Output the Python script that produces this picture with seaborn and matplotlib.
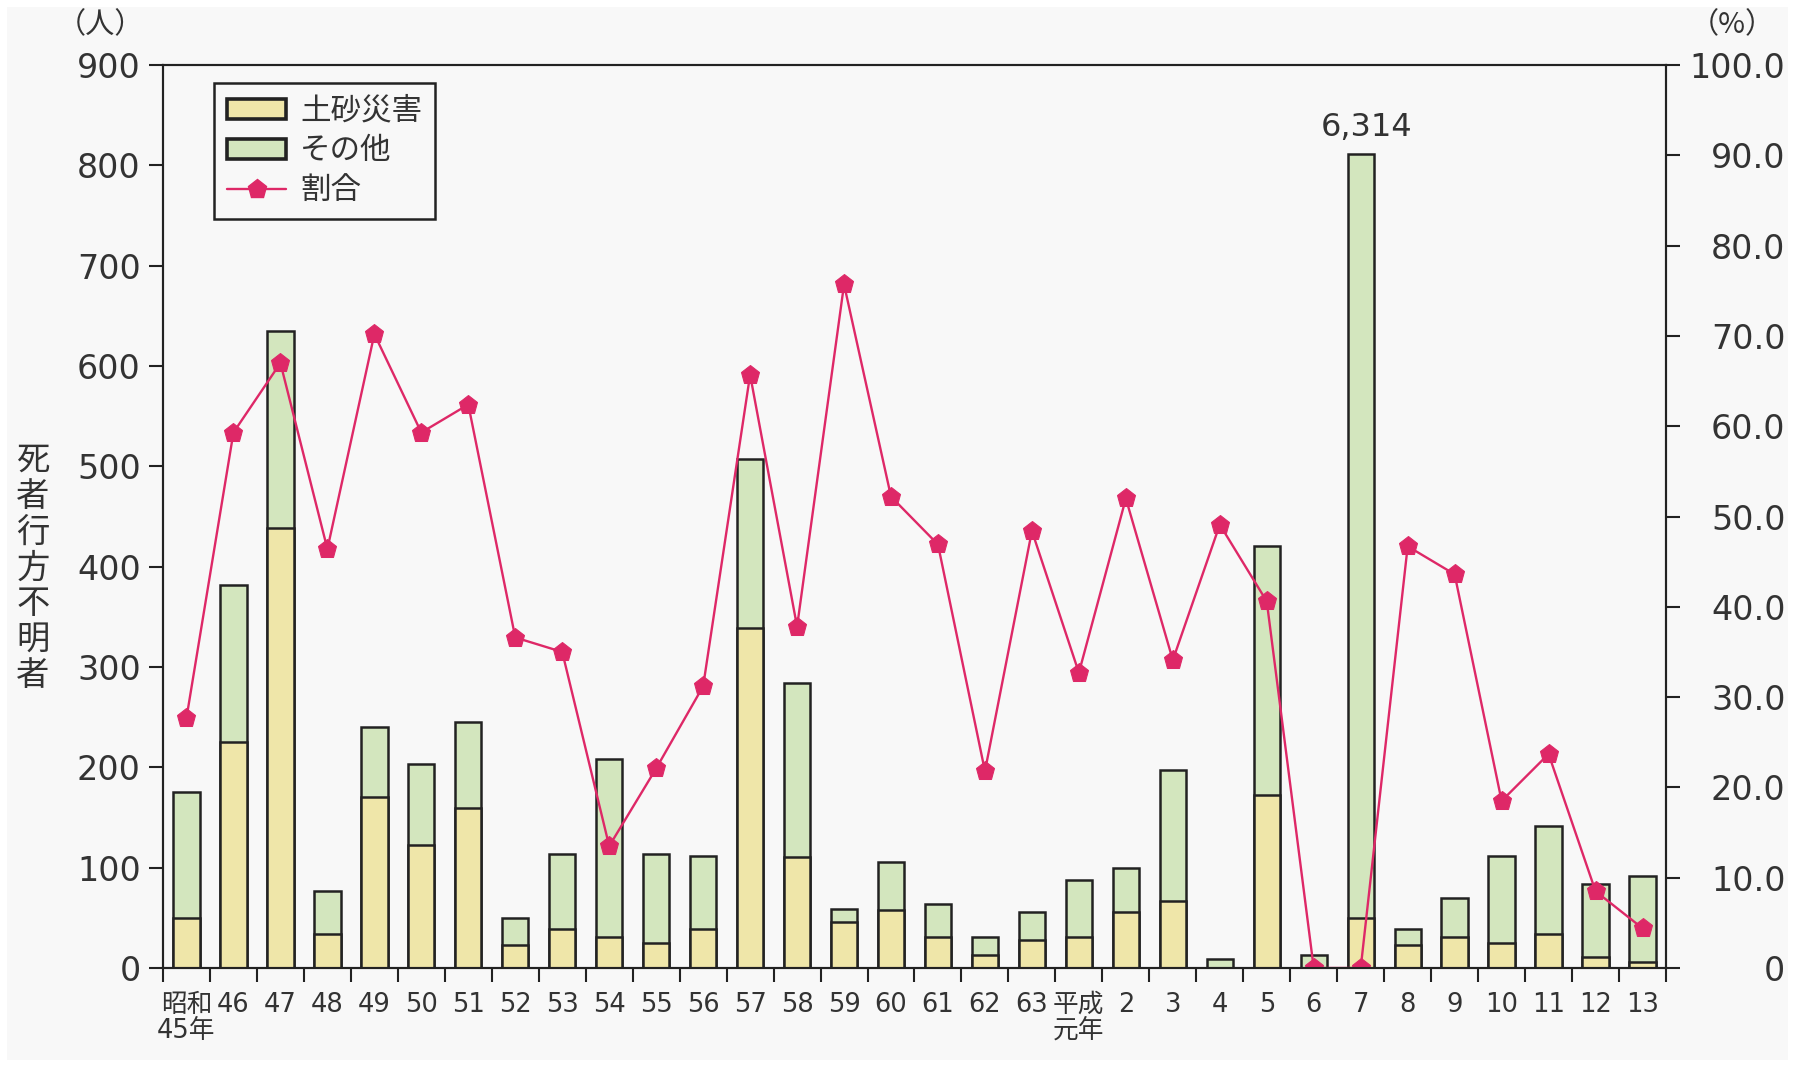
import numpy as np
import pandas as pd
import matplotlib
matplotlib.use("Agg")
import matplotlib.pyplot as plt
import seaborn as sns
from matplotlib.patches import Patch, Rectangle
from matplotlib.lines import Line2D

# ---- data -------------------------------------------------------------
years = ["昭和\n45年", "46", "47", "48", "49", "50", "51", "52", "53", "54",
         "55", "56", "57", "58", "59", "60", "61", "62", "63", "平成\n元年",
         "2", "3", "4", "5", "6", "7", "8", "9", "10", "11", "12", "13"]

# 土砂災害による死者・行方不明者（人）
sediment = [50, 225, 439, 34, 170, 123, 159, 23, 39, 31,
            25, 39, 339, 111, 46, 58, 31, 13, 28, 31,
            56, 67, 0, 172, 0, 50, 23, 31, 25, 34, 11, 6]

# その他の災害による死者・行方不明者（人）
other = [125, 157, 196, 43, 70, 80, 86, 27, 75, 177,
         89, 73, 168, 173, 13, 48, 33, 18, 28, 57,
         44, 130, 9, 249, 13, 6264, 16, 39, 87, 108, 73, 86]

# 土砂災害の占める割合（%）
ratio = [27.7, 59.3, 67.0, 46.4, 70.2, 59.3, 62.4, 36.6, 35.0, 13.5,
         22.1, 31.2, 65.7, 37.8, 75.7, 52.2, 46.9, 21.8, 48.4, 32.7,
         52.0, 34.1, 49.1, 40.6, 0.0, 0.0, 46.7, 43.6, 18.5, 23.7, 8.5, 4.4]

left_ticks = list(range(0, 901, 100))
right_ticks = list(range(0, 101, 10))

# bars taller than this are cut at the top of the axis and labelled
BAR_CAP = 811

# ---- style ------------------------------------------------------------
YELLOW = "#efe6a9"
GREEN = "#d3e6be"
RED = "#de2867"
EDGE = "#222222"
TEXT = "#333333"
BG = "#f8f8f8"
NUM_FONT = ["DejaVu Sans", "Noto Sans CJK JP"]
JP_FONT = ["Noto Sans CJK JP", "DejaVu Sans"]

sns.set_theme(style="ticks")
plt.rcParams["font.family"] = JP_FONT
plt.rcParams["text.color"] = TEXT
plt.rcParams["xtick.color"] = TEXT
plt.rcParams["ytick.color"] = TEXT

W, H = 1800, 1065
fig = plt.figure(figsize=(W / 100, H / 100), dpi=100)
fig.patch.set_facecolor("white")
fig.patches.append(Rectangle((7 / W, 5 / H), (1788 - 7) / W, (1058 - 5) / H,
                             transform=fig.transFigure, facecolor=BG,
                             edgecolor="none", zorder=-10))

x0, x1, y0, y1 = 163, 1666, 65, 968
ax = fig.add_axes([x0 / W, 1 - y1 / H, (x1 - x0) / W, (y1 - y0) / H])
ax.set_facecolor(BG)

total = np.array(sediment) + np.array(other)
df = pd.DataFrame({
    "year": years,
    "sediment": sediment,
    "total_drawn": np.minimum(total, BAR_CAP),
})

bar_kw = dict(saturation=1, edgecolor=EDGE, linewidth=1.8, width=0.56,
              errorbar=None, ax=ax)
sns.barplot(data=df, x="year", y="total_drawn", color=GREEN, **bar_kw)
sns.barplot(data=df, x="year", y="sediment", color=YELLOW, **bar_kw)

n = len(years)
ax.set_xlim(-0.5, n - 0.5)
ax.set_ylim(0, 900)
ax.set_xlabel("")
ax.set_ylabel("")

# tick marks between the bars, labels under the bars
ax.set_xticks(np.arange(-0.5, n, 1.0))
ax.set_xticklabels([])
ax.set_xticks(np.arange(n), minor=True)
ax.set_xticklabels(years, minor=True, linespacing=1.0, family=NUM_FONT,
                   fontsize=18.5)
ax.tick_params(axis="x", which="major", length=10, width=1.5,
               direction="out", color=EDGE, bottom=True)
ax.tick_params(axis="x", which="minor", length=0, pad=17)

ax.set_yticks(left_ticks)
ax.set_yticklabels([str(v) for v in left_ticks], family=NUM_FONT, fontsize=24)
ax.tick_params(axis="y", length=10, width=1.5, direction="out",
               color=EDGE, pad=6, left=True)

for s in ax.spines.values():
    s.set_visible(True)
    s.set_color(EDGE)
    s.set_linewidth(1.5)

# label for the cut-off bar
idx_cut = int(np.argmax(total))
ax.annotate(f"{total[idx_cut]:,}", xy=(idx_cut, BAR_CAP), xytext=(4, 8),
            textcoords="offset points", ha="center", va="bottom",
            fontsize=23, color=TEXT, family=NUM_FONT)

# ---- ratio line on the right axis -------------------------------------
ax2 = ax.twinx()
sns.lineplot(x=np.arange(n), y=ratio, ax=ax2, color=RED, linewidth=1.7,
             marker="p", markersize=14, markeredgecolor=RED,
             markerfacecolor=RED, legend=False)
ax2.set_ylim(0, 100)
ax2.set_xlim(-0.5, n - 0.5)
ax2.set_yticks(right_ticks)
ax2.set_yticklabels(["0" if v == 0 else f"{v:.1f}" for v in right_ticks],
                    family=NUM_FONT, fontsize=24)
ax2.tick_params(axis="y", length=10, width=1.5, direction="out", color=EDGE,
                pad=76, right=True)
for lbl in ax2.get_yticklabels():
    lbl.set_horizontalalignment("right")
for s in ax2.spines.values():
    s.set_color(EDGE)
    s.set_linewidth(1.5)

# ---- legend -------------------------------------------------------------
handles = [
    Patch(facecolor=YELLOW, edgecolor=EDGE, linewidth=2.6),
    Patch(facecolor=GREEN, edgecolor=EDGE, linewidth=2.6),
    Line2D([0], [0], color=RED, linewidth=1.7, marker="p", markersize=14,
           markerfacecolor=RED, markeredgecolor=RED),
]
leg = ax2.legend(handles, ["土砂災害", "その他", "割合"], loc="upper left",
                 bbox_to_anchor=(214 / W, 1 - 83 / H),
                 bbox_transform=fig.transFigure, borderaxespad=0,
                 frameon=True, fancybox=False, framealpha=1,
                 facecolor=BG, edgecolor=EDGE, fontsize=22,
                 handlelength=1.95, handleheight=0.62, labelspacing=0.28,
                 borderpad=0.42, handletextpad=0.45)
leg.get_frame().set_linewidth(1.8)

# ---- axis titles --------------------------------------------------------
fig.text(100 / W, 1 - 25 / H, "（人）", ha="center", va="center",
         fontsize=21, color=TEXT)
fig.text(1732 / W, 1 - 25 / H, "（%）", ha="center", va="center",
         fontsize=21, color=TEXT)
fig.text(33 / W, 1 - 568 / H, "\n".join("死者行方不明者"), ha="center",
         va="center", fontsize=24, linespacing=1.03, color=TEXT)

fig.savefig("out.png", dpi=100, facecolor=fig.get_facecolor())
